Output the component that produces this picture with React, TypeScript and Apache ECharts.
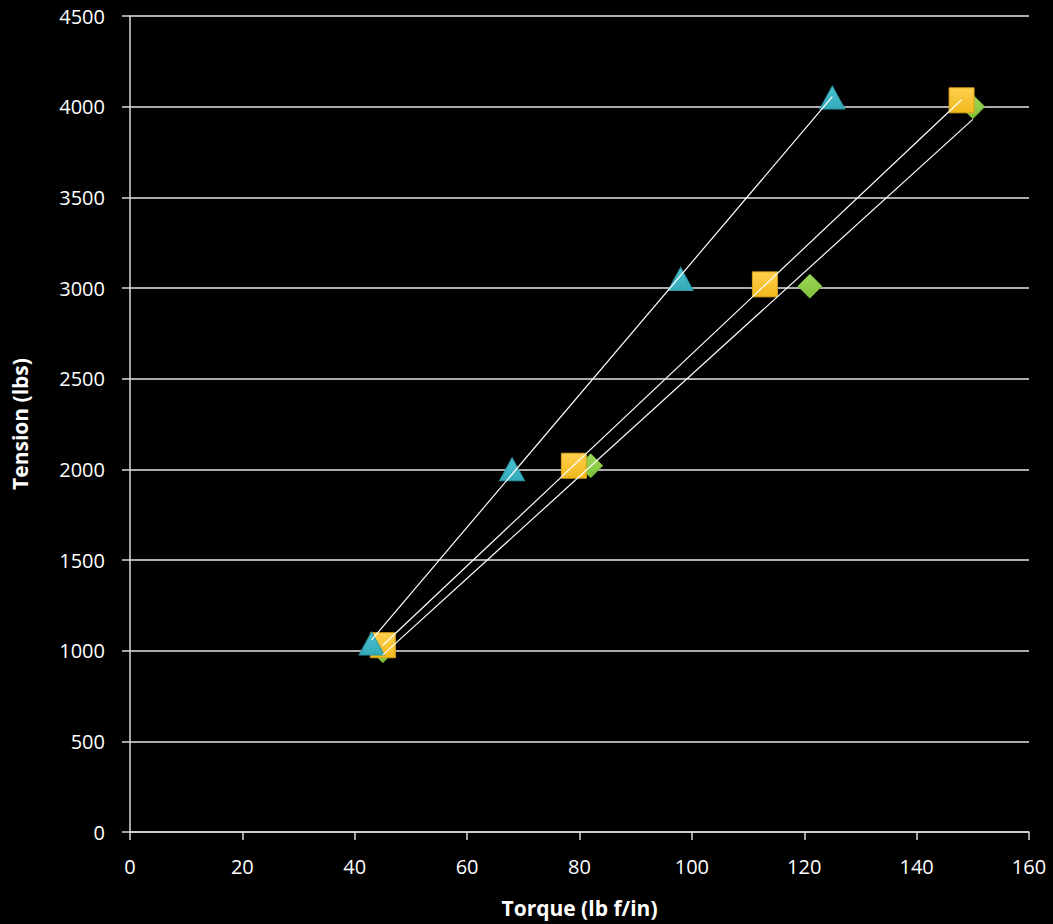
import React, { useEffect, useRef } from "react";
import * as echarts from "echarts";

const triangleX = [43, 68, 98, 125];
const triangleY = [1040, 2000, 3050, 4050];
const squareX = [45, 79, 113, 148];
const squareY = [1030, 2020, 3020, 4035];
const diamondX = [45, 82, 121, 150];
const diamondY = [1000, 2020, 3010, 4000];

// trendline endpoints
const triangleTrendX = [43, 125];
const triangleTrendY = [1060, 4055];
const squareTrendX = [45, 148];
const squareTrendY = [1030, 4038];
const diamondTrendX = [45, 150];
const diamondTrendY = [977, 3930];

const xTicks = [0, 20, 40, 60, 80, 100, 120, 140, 160];
const yTicks = [0, 500, 1000, 1500, 2000, 2500, 3000, 3500, 4000, 4500];

const pts = (xs: number[], ys: number[]) => xs.map((x, i) => [x, ys[i]]);

const FONT = "'Open Sans', 'Noto Sans', sans-serif";

export default function App() {
  const ref = useRef<HTMLDivElement>(null);
  useEffect(() => {
    if (!ref.current) return;
    const chart = echarts.init(ref.current, null, { renderer: "svg" });
    const grad = (top: string, bottom: string) =>
      new echarts.graphic.LinearGradient(0, 0, 0, 1, [
        { offset: 0, color: top },
        { offset: 1, color: bottom },
      ]);
    const trend = (xs: number[], ys: number[]) => ({
      type: "line",
      data: pts(xs, ys),
      showSymbol: false,
      symbol: "none",
      lineStyle: { color: "#ffffff", width: 1.2 },
      z: 10,
      silent: true,
    });
    chart.setOption({
      animation: false,
      backgroundColor: "#000000",
      grid: { left: 130, right: 24, top: 16, bottom: 92, containLabel: false },
      xAxis: {
        type: "value",
        min: xTicks[0],
        max: xTicks[xTicks.length - 1],
        interval: 20,
        name: "Torque (lb f/in)",
        nameLocation: "middle",
        nameGap: 65,
        nameTextStyle: { color: "#ffffff", fontSize: 21, fontWeight: "bold", fontFamily: FONT },
        axisLine: { show: true, lineStyle: { color: "#d9d9d9", width: 1.5 } },
        axisTick: { show: true, length: 8, lineStyle: { color: "#d9d9d9", width: 1.5 } },
        axisLabel: { color: "#ffffff", fontSize: 20, margin: 24, fontFamily: FONT, formatter: (v: number) => String(v) },
        splitLine: { show: false },
      },
      yAxis: {
        type: "value",
        min: yTicks[0],
        max: yTicks[yTicks.length - 1],
        interval: 500,
        name: "Tension (lbs)",
        nameLocation: "middle",
        nameGap: 100,
        nameRotate: 90,
        nameTextStyle: { color: "#ffffff", fontSize: 21, fontWeight: "bold", fontFamily: FONT },
        axisLine: { show: true, lineStyle: { color: "#d9d9d9", width: 1.5 } },
        axisTick: { show: true, length: 8, lineStyle: { color: "#d9d9d9", width: 1.5 } },
        axisLabel: { color: "#ffffff", fontSize: 20, margin: 25, fontFamily: FONT, formatter: (v: number) => String(v) },
        splitLine: { show: true, lineStyle: { color: "#e6e6e6", width: 1.5 } },
      },
      series: [
        {
          type: "scatter",
          data: pts(diamondX, diamondY),
          symbol: "diamond",
          symbolSize: [24, 24],
          itemStyle: { color: grad("#9ed85a", "#7fc03a"), borderColor: "#76ad3a", borderWidth: 1, opacity: 1 },
          z: 2,
        },
        {
          type: "scatter",
          data: pts(squareX, squareY),
          symbol: "rect",
          symbolSize: [25, 25],
          itemStyle: { color: grad("#ffd050", "#f0b81a"), borderColor: "#d9a21a", borderWidth: 1, opacity: 1 },
          z: 3,
        },
        {
          type: "scatter",
          data: pts(triangleX, triangleY),
          symbol: "triangle",
          symbolSize: [25, 23],
          itemStyle: { color: grad("#4cc3d2", "#34aab9"), borderColor: "#2e98a6", borderWidth: 1, opacity: 1 },
          z: 4,
        },
        trend(triangleTrendX, triangleTrendY),
        trend(squareTrendX, squareTrendY),
        trend(diamondTrendX, diamondTrendY),
      ],
    });
    return () => chart.dispose();
  }, []);
  return <div ref={ref} style={{ width: 1053, height: 924, position: "absolute", left: 0, top: 0 }} />;
}
